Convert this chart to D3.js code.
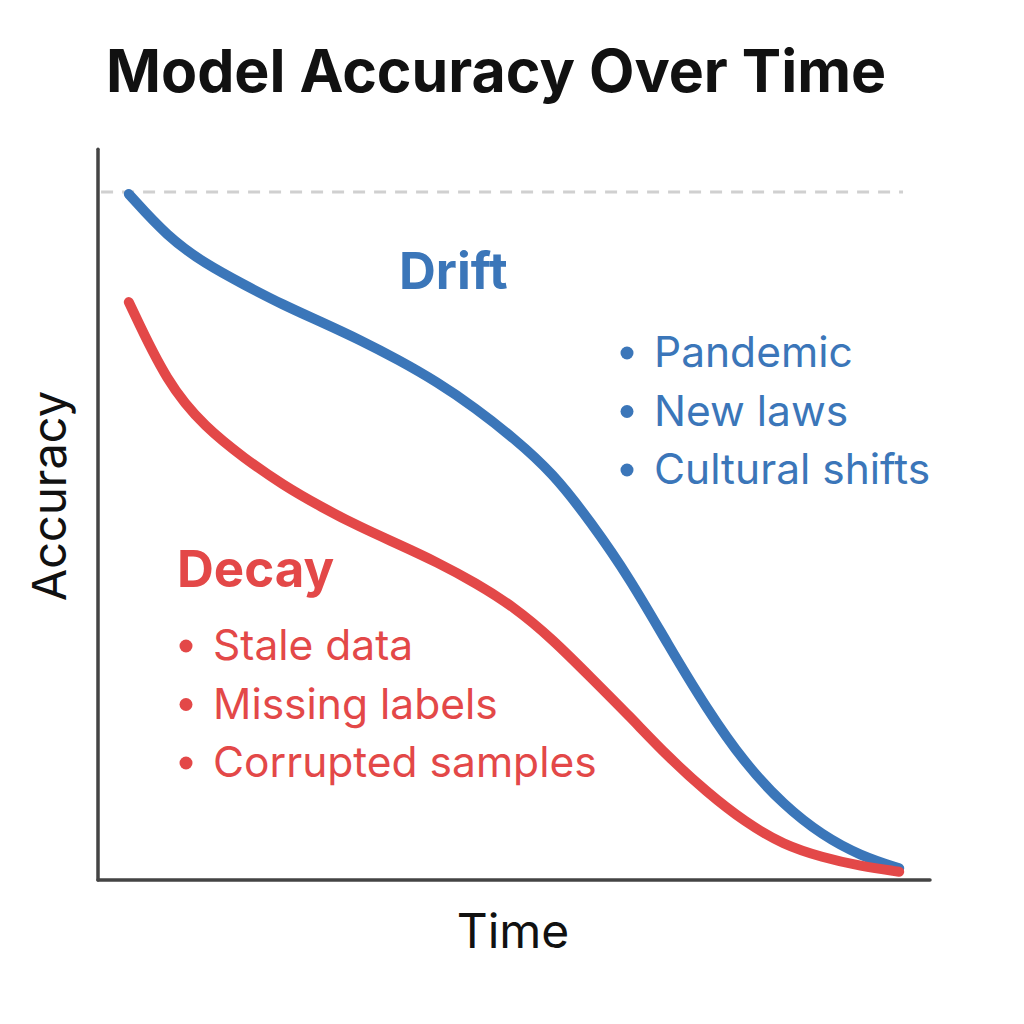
<!DOCTYPE html>
<html>
<head>
<meta charset="utf-8">
<script src="https://cdn.jsdelivr.net/npm/d3@7"></script>
<style>
  body { margin: 0; background: #fff; }
  svg { font-family: Inter, "Noto Sans", sans-serif; }
</style>
</head>
<body>
<svg width="1024" height="1024"></svg>
<script>
// time steps (arbitrary units) and accuracy values
const timeSteps = [0, 0.5, 1, 1.5, 2, 2.5, 3, 3.5, 4, 4.5, 5, 5.5, 6, 6.5, 7, 7.5, 8, 8.5, 9, 9.5, 10];
const driftAccuracy = [0.997, 0.935, 0.895, 0.865, 0.836, 0.811, 0.785, 0.756, 0.724, 0.686, 0.642, 0.592, 0.520, 0.439, 0.342, 0.249, 0.169, 0.109, 0.065, 0.035, 0.017];
const decayAccuracy = [0.840, 0.721, 0.657, 0.613, 0.574, 0.542, 0.513, 0.488, 0.462, 0.432, 0.397, 0.350, 0.294, 0.238, 0.179, 0.128, 0.084, 0.051, 0.033, 0.020, 0.012];
const baselineAccuracy = 1;

const driftCauses = ["Pandemic", "New laws", "Cultural shifts"];
const decayCauses = ["Stale data", "Missing labels", "Corrupted samples"];

const blue = "#3b76b9", red = "#e34848";

const svg = d3.select("svg");

const x = d3.scaleLinear()
  .domain([-0.4, 10.4])
  .range([98, 930]);

const y = d3.scaleLinear()
  .domain([0, 1])
  .range([880, 192]);

// title
svg.append("text")
  .attr("x", 106)
  .attr("y", 92)
  .attr("font-size", 59)
  .attr("font-weight", 700)
  .attr("fill", "#111")
  .text("Model Accuracy Over Time");

// reference line at full accuracy
svg.append("line")
  .attr("x1", x(-0.36)).attr("x2", x(10.05))
  .attr("y1", y(baselineAccuracy)).attr("y2", y(baselineAccuracy))
  .attr("stroke", "#d0d0d0")
  .attr("stroke-width", 3)
  .attr("stroke-dasharray", "12,9");

// axes (no ticks)
svg.append("line")
  .attr("x1", x(-0.4)).attr("x2", x(-0.4))
  .attr("y1", y(1.062)).attr("y2", y(0))
  .attr("stroke", "#444").attr("stroke-width", 3.5).attr("stroke-linecap", "round");

svg.append("line")
  .attr("x1", x(-0.4)).attr("x2", x(10.4))
  .attr("y1", y(0)).attr("y2", y(0))
  .attr("stroke", "#444").attr("stroke-width", 3.5).attr("stroke-linecap", "round");

// smooth b-spline through the read-off values
const line = d3.line()
  .x(d => x(d[0]))
  .y(d => y(d[1]))
  .curve(d3.curveBasis);

svg.append("path")
  .datum(timeSteps.map((t, i) => [t, driftAccuracy[i]]))
  .attr("d", line)
  .attr("fill", "none")
  .attr("stroke", blue)
  .attr("stroke-width", 10)
  .attr("stroke-linecap", "round");

svg.append("path")
  .datum(timeSteps.map((t, i) => [t, decayAccuracy[i]]))
  .attr("d", line)
  .attr("fill", "none")
  .attr("stroke", red)
  .attr("stroke-width", 10)
  .attr("stroke-linecap", "round");

// axis labels
svg.append("text")
  .attr("x", 513)
  .attr("y", 948)
  .attr("text-anchor", "middle")
  .attr("font-size", 48)
  .attr("fill", "#111")
  .text("Time");

svg.append("text")
  .attr("transform", "translate(66,496) rotate(-90)")
  .attr("text-anchor", "middle")
  .attr("font-size", 47)
  .attr("fill", "#111")
  .text("Accuracy");

// annotations
function annotate(title, items, color, tx, ty, bx, by) {
  svg.append("text")
    .attr("x", tx).attr("y", ty)
    .attr("font-size", 51)
    .attr("font-weight", 700)
    .attr("fill", color)
    .text(title);

  const g = svg.append("g");
  items.forEach((d, i) => {
    g.append("circle")
      .attr("cx", bx + 7).attr("cy", by + i * 58.5 - 14)
      .attr("r", 6.5)
      .attr("fill", color);
    g.append("text")
      .attr("x", bx + 34).attr("y", by + i * 58.5)
      .attr("font-size", 42.5)
      .attr("fill", color)
      .text(d);
  });
}

annotate("Drift", driftCauses, blue, 399, 289, 620, 367);
annotate("Decay", decayCauses, red, 177, 587, 179, 660);
</script>
</body>
</html>
